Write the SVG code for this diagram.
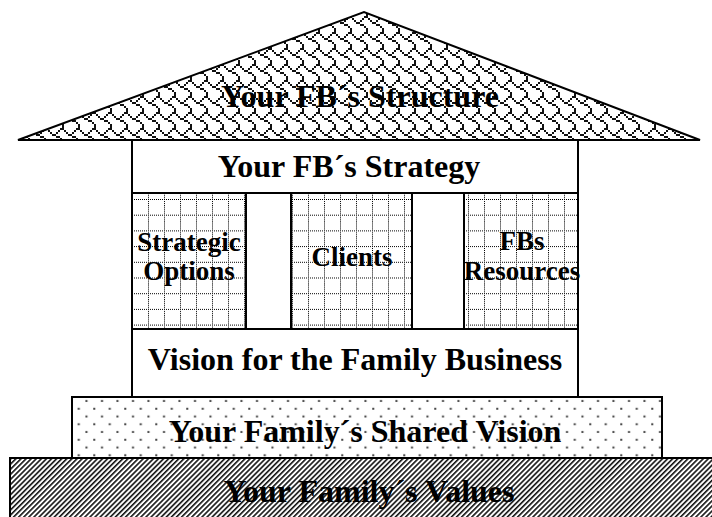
<svg xmlns="http://www.w3.org/2000/svg" width="712" height="517" viewBox="0 0 712 517">
  <defs>
    <!-- shingle hatch for the roof (8x8 bitmap drawn at 2x) -->
    <pattern id="shingle" width="16" height="16" patternUnits="userSpaceOnUse">
      <rect width="16" height="16" fill="#fff"/>
      <path fill="#111" d="M12,0h4v2h-4z M0,2h2v2h-2z M10,2h2v2h-2z M2,4h2v2h-2z M8,4h2v2h-2z M4,6h4v2h-4z M8,8h4v2h-4z M12,10h2v2h-2z M14,12h2v4h-2z"/>
    </pattern>
    <!-- dotted grid for the pillars -->
    <pattern id="dotgrid" width="16" height="15.7" patternUnits="userSpaceOnUse" x="132" y="199">
      <rect width="16" height="15.7" fill="#fff"/>
      <line x1="0" y1="0.5" x2="16" y2="0.5" stroke="#000" stroke-width="1" stroke-dasharray="1 1"/>
      <line x1="0.5" y1="0" x2="0.5" y2="15.7" stroke="#000" stroke-width="1" stroke-dasharray="1 1"/>
    </pattern>
    <!-- staggered dots for the shared-vision band -->
    <pattern id="dots" width="15.5" height="15.5" patternUnits="userSpaceOnUse">
      <rect width="15.5" height="15.5" fill="#fff"/>
      <rect x="8" y="12.5" width="2" height="2" fill="#444"/>
      <rect x="0.25" y="4.75" width="2" height="2" fill="#444"/>
    </pattern>
    <!-- forward diagonal stripes for the foundation -->
    <pattern id="stripes" width="3.6" height="3.6" patternUnits="userSpaceOnUse" patternTransform="rotate(45)">
      <rect width="3.6" height="3.6" fill="#fff"/>
      <rect width="1.6" height="3.6" fill="#111"/>
    </pattern>
    <style>
      .edge { stroke: #000; stroke-width: 2; }
      .label { font-family: "Liberation Serif", "Times New Roman", serif; font-weight: bold; fill: #000; text-anchor: middle; }
      .big { font-size: 32px; }
      .small { font-size: 27px; }
    </style>
  </defs>

  <g id="values">
    <rect class="edge" x="10" y="458" width="712" height="70" fill="url(#stripes)"/>
    <text class="label big" x="369" y="502">Your Family´s Values</text>
  </g>

  <g id="shared-vision">
    <rect class="edge" x="72" y="397" width="590" height="61" fill="url(#dots)"/>
    <text class="label big" x="365" y="442">Your Family´s Shared Vision</text>
  </g>

  <g id="business-vision">
    <rect class="edge" x="132" y="329" width="446" height="68" fill="#fff"/>
    <text class="label big" x="355" y="370">Vision for the Family Business</text>
  </g>

  <g id="strategic-options">
    <rect class="edge" x="132" y="193" width="114" height="136" fill="url(#dotgrid)"/>
    <text class="label small" x="189" y="251">Strategic</text>
    <text class="label small" x="189" y="280">Options</text>
  </g>

  <g id="gap-1">
    <rect class="edge" x="246" y="193" width="45" height="136" fill="#fff"/>
  </g>

  <g id="clients">
    <rect class="edge" x="291" y="193" width="121" height="136" fill="url(#dotgrid)"/>
    <text class="label small" x="352" y="266">Clients</text>
  </g>

  <g id="gap-2">
    <rect class="edge" x="412" y="193" width="52" height="136" fill="#fff"/>
  </g>

  <g id="resources">
    <rect class="edge" x="464" y="193" width="114" height="136" fill="url(#dotgrid)"/>
    <text class="label small" x="522" y="250">FBs</text>
    <text class="label small" x="522" y="280">Resources</text>
  </g>

  <g id="strategy">
    <rect class="edge" x="132" y="140" width="446" height="53" fill="#fff"/>
    <text class="label big" x="349" y="177">Your FB´s Strategy</text>
  </g>

  <g id="structure">
    <polygon class="edge" points="18,140 364,12 700,140" fill="url(#shingle)" stroke-linejoin="miter"/>
    <text class="label big" x="360" y="107">Your FB´s Structure</text>
  </g>
</svg>
